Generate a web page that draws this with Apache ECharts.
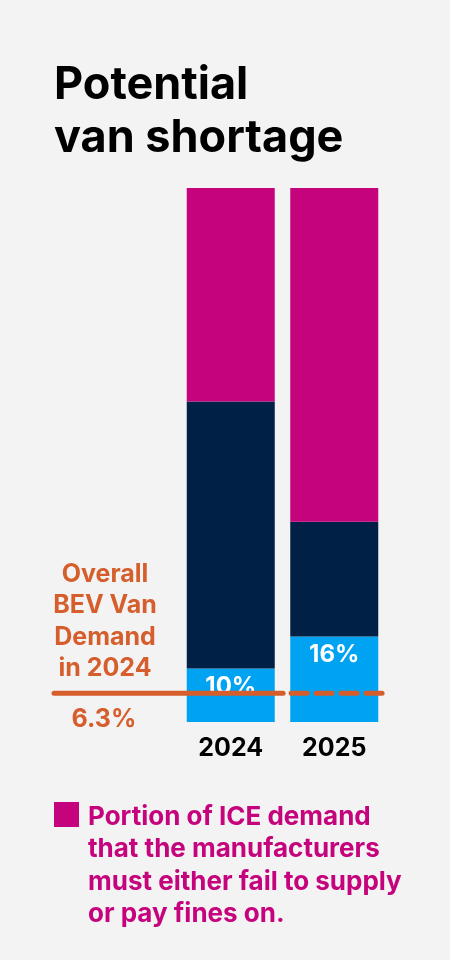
<!DOCTYPE html>
<html>
<head>
<meta charset="utf-8">
<script src="https://cdn.jsdelivr.net/npm/echarts@6/dist/echarts.min.js"></script>
<style>
  html, body { margin: 0; padding: 0; background: #f3f3f3; }
  #chart { width: 450px; height: 960px; }
</style>
</head>
<body>
<div id="chart"></div>
<script>
const years = ['2024', '2025'];
const bevShare = [10, 16];          // light blue, labelled
const iceSupplied = [50, 21.5];     // navy
const iceShortage = [40, 62.5];     // magenta
const demandLevel = 5.4;            // where the orange line sits
const demandLabel = '6.3%';

const font = 'Inter, "Noto Sans", sans-serif';

const chartDom = document.getElementById('chart');
const myChart = echarts.init(chartDom);

const option = {
    backgroundColor: '#f3f3f3',
    animation: false,
    title: {
        text: 'Potential\nvan shortage',
        left: 54,
        top: 59,
        padding: 0,
        textStyle: {
            fontFamily: font,
            fontSize: 45,
            fontWeight: 'bold',
            lineHeight: 53,
            color: '#000'
        }
    },
    grid: [
        { left: 179, right: 64, top: 188, bottom: 238 },
        { left: 54, right: 63, top: 188, bottom: 238 }
    ],
    xAxis: [
        {
            type: 'category',
            data: years,
            gridIndex: 0,
            axisLine: { show: false },
            axisTick: { show: false },
            axisLabel: {
                margin: 14,
                fontFamily: font,
                fontSize: 25,
                fontWeight: 'bold',
                color: '#000'
            }
        },
        // helper axis so the demand line can run across the text on the left
        { type: 'value', gridIndex: 1, min: 0, max: 1, show: false }
    ],
    yAxis: [
        { type: 'value', gridIndex: 0, min: 0, max: 100, show: false },
        { type: 'value', gridIndex: 1, min: 0, max: 100, show: false }
    ],
    series: [
        {
            name: 'BEV',
            type: 'bar',
            stack: 'total',
            barWidth: 88,
            data: bevShare,
            itemStyle: { color: '#00a2f2' },
            label: {
                show: true,
                position: 'insideTop',
                distance: 6,
                formatter: '{c}%',
                fontFamily: font,
                fontSize: 24,
                fontWeight: 'bold',
                color: '#fff'
            }
        },
        {
            name: 'ICE supplied',
            type: 'bar',
            stack: 'total',
            data: iceSupplied,
            itemStyle: { color: '#002145' }
        },
        {
            name: 'ICE shortage',
            type: 'bar',
            stack: 'total',
            data: iceShortage,
            itemStyle: { color: '#c5037c' }
        },
        {
            type: 'line',
            xAxisIndex: 1,
            yAxisIndex: 1,
            data: [[0, demandLevel], [0.688, demandLevel]],
            symbol: 'none',
            lineStyle: { color: '#d55e2c', width: 5, cap: 'round' },
            z: 5
        },
        {
            type: 'line',
            xAxisIndex: 1,
            yAxisIndex: 1,
            data: [[0.712, demandLevel], [1, demandLevel]],
            symbol: 'none',
            lineStyle: { color: '#d55e2c', width: 5, type: [16, 9], cap: 'round' },
            z: 5
        }
    ],
    graphic: [
        {
            type: 'text',
            x: 105,
            y: 559,
            style: {
                text: 'Overall\nBEV Van\nDemand\nin 2024',
                align: 'center',
                verticalAlign: 'top',
                fill: '#d55e2c',
                fontFamily: font,
                fontSize: 25,
                fontWeight: 'bold',
                lineHeight: 31.3
            }
        },
        {
            type: 'text',
            x: 104,
            y: 719,
            style: {
                text: demandLabel,
                align: 'center',
                verticalAlign: 'middle',
                fill: '#d55e2c',
                fontFamily: font,
                fontSize: 25,
                fontWeight: 'bold'
            }
        },
        {
            type: 'rect',
            left: 54,
            top: 802,
            shape: { width: 25, height: 25 },
            style: { fill: '#c5037c' }
        },
        {
            type: 'text',
            x: 88,
            y: 801,
            style: {
                text: 'Portion of ICE demand\nthat the manufacturers\nmust either fail to supply\nor pay fines on.',
                verticalAlign: 'top',
                fill: '#c5037c',
                fontFamily: font,
                fontSize: 26,
                fontWeight: 'bold',
                lineHeight: 32.3
            }
        }
    ]
};

myChart.setOption(option);
</script>
</body>
</html>
